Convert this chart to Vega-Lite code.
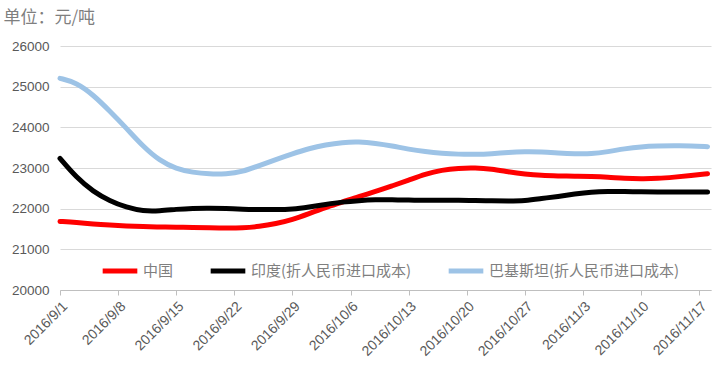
{
  "$schema": "https://vega.github.io/schema/vega-lite/v6.json",
  "width": 651,
  "height": 244,
  "autosize": "none",
  "padding": {"left": 60, "top": 46, "right": 7, "bottom": 80},
  "background": "white",
  "title": {
    "text": "单位：元/吨",
    "anchor": "start",
    "font": "Noto Sans CJK SC",
    "fontSize": 17,
    "fontWeight": "normal",
    "color": "#7F7F7F",
    "offset": 12,
    "dx": -8
  },
  "config": {
    "view": {"stroke": null},
    "font": "Liberation Sans"
  },
  "data": {
    "values": [
      {"date": "2016-09-01", "中国": 21686, "印度(折人民币进口成本)": 23235, "巴基斯坦(折人民币进口成本)": 25205},
      {"date": "2016-09-03", "中国": 21660, "印度(折人民币进口成本)": 22760, "巴基斯坦(折人民币进口成本)": 25100},
      {"date": "2016-09-05", "中国": 21620, "印度(折人民币进口成本)": 22420, "巴基斯坦(折人民币进口成本)": 24800},
      {"date": "2016-09-07", "中国": 21595, "印度(折人民币进口成本)": 22190, "巴基斯坦(折人民币进口成本)": 24400},
      {"date": "2016-09-09", "中国": 21575, "印度(折人民币进口成本)": 22030, "巴基斯坦(折人民币进口成本)": 23980},
      {"date": "2016-09-11", "中国": 21560, "印度(折人民币进口成本)": 21940, "巴基斯坦(折人民币进口成本)": 23530},
      {"date": "2016-09-13", "中国": 21550, "印度(折人民币进口成本)": 21945, "巴基斯坦(折人民币进口成本)": 23180},
      {"date": "2016-09-15", "中国": 21545, "印度(折人民币进口成本)": 21985, "巴基斯坦(折人民币进口成本)": 22980},
      {"date": "2016-09-17", "中国": 21540, "印度(折人民币进口成本)": 22010, "巴基斯坦(折人民币进口成本)": 22890},
      {"date": "2016-09-19", "中国": 21530, "印度(折人民币进口成本)": 22015, "巴基斯坦(折人民币进口成本)": 22850},
      {"date": "2016-09-21", "中国": 21520, "印度(折人民币进口成本)": 22005, "巴基斯坦(折人民币进口成本)": 22850},
      {"date": "2016-09-23", "中国": 21525, "印度(折人民币进口成本)": 21985, "巴基斯坦(折人民币进口成本)": 22910},
      {"date": "2016-09-25", "中国": 21560, "印度(折人民币进口成本)": 21978, "巴基斯坦(折人民币进口成本)": 23060},
      {"date": "2016-09-27", "中国": 21630, "印度(折人民币进口成本)": 21975, "巴基斯坦(折人民币进口成本)": 23210},
      {"date": "2016-09-29", "中国": 21730, "印度(折人民币进口成本)": 21985, "巴基斯坦(折人民币进口成本)": 23350},
      {"date": "2016-10-01", "中国": 21880, "印度(折人民币进口成本)": 22040, "巴基斯坦(折人民币进口成本)": 23480},
      {"date": "2016-10-03", "中国": 22030, "印度(折人民币进口成本)": 22105, "巴基斯坦(折人民币进口成本)": 23570},
      {"date": "2016-10-05", "中国": 22160, "印度(折人民币进口成本)": 22165, "巴基斯坦(折人民币进口成本)": 23630},
      {"date": "2016-10-07", "中国": 22300, "印度(折人民币进口成本)": 22200, "巴基斯坦(折人民币进口成本)": 23645},
      {"date": "2016-10-09", "中国": 22420, "印度(折人民币进口成本)": 22220, "巴基斯坦(折人民币进口成本)": 23610},
      {"date": "2016-10-11", "中国": 22560, "印度(折人民币进口成本)": 22218, "巴基斯坦(折人民币进口成本)": 23545},
      {"date": "2016-10-13", "中国": 22700, "印度(折人民币进口成本)": 22210, "巴基斯坦(折人民币进口成本)": 23460},
      {"date": "2016-10-15", "中国": 22850, "印度(折人民币进口成本)": 22205, "巴基斯坦(折人民币进口成本)": 23400},
      {"date": "2016-10-17", "中国": 22950, "印度(折人民币进口成本)": 22205, "巴基斯坦(折人民币进口成本)": 23360},
      {"date": "2016-10-19", "中国": 22995, "印度(折人民币进口成本)": 22205, "巴基斯坦(折人民币进口成本)": 23338},
      {"date": "2016-10-21", "中国": 23005, "印度(折人民币进口成本)": 22200, "巴基斯坦(折人民币进口成本)": 23335},
      {"date": "2016-10-23", "中国": 22975, "印度(折人民币进口成本)": 22192, "巴基斯坦(折人民币进口成本)": 23350},
      {"date": "2016-10-25", "中国": 22905, "印度(折人民币进口成本)": 22190, "巴基斯坦(折人民币进口成本)": 23385},
      {"date": "2016-10-27", "中国": 22850, "印度(折人民币进口成本)": 22195, "巴基斯坦(折人民币进口成本)": 23400},
      {"date": "2016-10-29", "中国": 22815, "印度(折人民币进口成本)": 22250, "巴基斯坦(折人民币进口成本)": 23395},
      {"date": "2016-10-31", "中国": 22805, "印度(折人民币进口成本)": 22300, "巴基斯坦(折人民币进口成本)": 23370},
      {"date": "2016-11-02", "中国": 22800, "印度(折人民币进口成本)": 22360, "巴基斯坦(折人民币进口成本)": 23350},
      {"date": "2016-11-04", "中国": 22790, "印度(折人民币进口成本)": 22410, "巴基斯坦(折人民币进口成本)": 23345},
      {"date": "2016-11-06", "中国": 22775, "印度(折人民币进口成本)": 22425, "巴基斯坦(折人民币进口成本)": 23400},
      {"date": "2016-11-08", "中国": 22745, "印度(折人民币进口成本)": 22420, "巴基斯坦(折人民币进口成本)": 23475},
      {"date": "2016-11-10", "中国": 22735, "印度(折人民币进口成本)": 22415, "巴基斯坦(折人民币进口成本)": 23525},
      {"date": "2016-11-12", "中国": 22740, "印度(折人民币进口成本)": 22410, "巴基斯坦(折人民币进口成本)": 23540},
      {"date": "2016-11-14", "中国": 22775, "印度(折人民币进口成本)": 22410, "巴基斯坦(折人民币进口成本)": 23545},
      {"date": "2016-11-16", "中国": 22815, "印度(折人民币进口成本)": 22410, "巴基斯坦(折人民币进口成本)": 23545},
      {"date": "2016-11-18", "中国": 22860, "印度(折人民币进口成本)": 22410, "巴基斯坦(折人民币进口成本)": 23525}
    ]
  },
  "transform": [
    {"fold": ["中国", "印度(折人民币进口成本)", "巴基斯坦(折人民币进口成本)"], "as": ["series", "value"]}
  ],
  "mark": {"type": "line", "interpolate": "basis", "strokeWidth": 5, "strokeCap": "round"},
  "encoding": {
    "x": {
      "field": "date",
      "type": "temporal",
      "scale": {
        "type": "utc",
        "domain": [
          {"year": 2016, "month": 9, "date": 1, "utc": true},
          {"year": 2016, "month": 11, "date": 18, "hours": 10, "utc": true}
        ]
      },
      "axis": {
        "title": null,
        "values": [
          {"year": 2016, "month": 9, "date": 1, "utc": true},
          {"year": 2016, "month": 9, "date": 8, "utc": true},
          {"year": 2016, "month": 9, "date": 15, "utc": true},
          {"year": 2016, "month": 9, "date": 22, "utc": true},
          {"year": 2016, "month": 9, "date": 29, "utc": true},
          {"year": 2016, "month": 10, "date": 6, "utc": true},
          {"year": 2016, "month": 10, "date": 13, "utc": true},
          {"year": 2016, "month": 10, "date": 20, "utc": true},
          {"year": 2016, "month": 10, "date": 27, "utc": true},
          {"year": 2016, "month": 11, "date": 3, "utc": true},
          {"year": 2016, "month": 11, "date": 10, "utc": true},
          {"year": 2016, "month": 11, "date": 17, "utc": true}
        ],
        "format": "%Y/%-m/%-d",
        "labelAngle": -45,
        "labelFontSize": 14,
        "labelColor": "#595959",
        "labelPadding": 4,
        "domainColor": "#BFBFBF",
        "tickColor": "#BFBFBF",
        "tickSize": 5,
        "grid": false,
        "labelOverlap": false,
        "labelFlush": false
      }
    },
    "y": {
      "field": "value",
      "type": "quantitative",
      "scale": {"domain": [20000, 26000], "nice": false, "zero": false},
      "axis": {
        "title": null,
        "values": [20000, 21000, 22000, 23000, 24000, 25000, 26000],
        "format": "d",
        "labelFontSize": 13.5,
        "labelColor": "#595959",
        "labelPadding": 11,
        "domain": false,
        "ticks": false,
        "gridColor": "#D9D9D9",
        "gridWidth": 1
      }
    },
    "color": {
      "field": "series",
      "type": "nominal",
      "scale": {
        "domain": ["中国", "印度(折人民币进口成本)", "巴基斯坦(折人民币进口成本)"],
        "range": ["#FF0000", "#000000", "#9DC3E6"]
      },
      "legend": {
        "title": null,
        "orient": "none",
        "legendX": 40,
        "legendY": 205,
        "direction": "horizontal",
        "symbolType": "stroke",
        "symbolSize": 1200,
        "symbolStrokeWidth": 5,
        "labelFont": "Noto Sans CJK SC",
        "labelFontSize": 15,
        "labelColor": "#7F7F7F",
        "labelOffset": 3,
        "columnPadding": 26,
        "padding": 0,
        "labelLimit": 400
      }
    },
    "strokeWidth": {
      "field": "series",
      "type": "nominal",
      "scale": {
        "domain": ["中国", "印度(折人民币进口成本)", "巴基斯坦(折人民币进口成本)"],
        "range": [5, 5, 6.5]
      },
      "legend": null
    }
  }
}
